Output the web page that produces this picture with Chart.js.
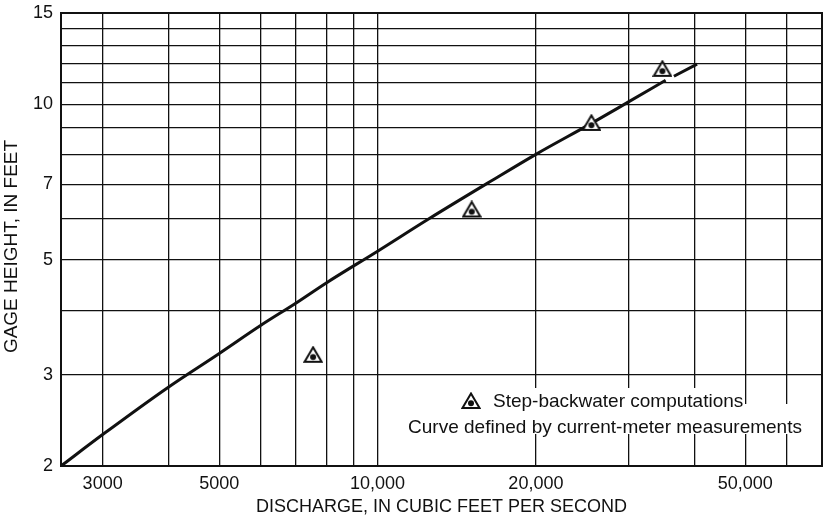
<!DOCTYPE html>
<html>
<head>
<meta charset="utf-8">
<script src="https://cdn.jsdelivr.net/npm/chart.js@4.4.1/dist/chart.umd.min.js"></script>
<style>
  html, body { margin: 0; padding: 0; background: #fff; overflow: hidden; }
  #wrap { width: 829px; height: 522px; }
  canvas { display: block; }
</style>
</head>
<body>
<div id="wrap"><canvas id="c" width="829" height="522"></canvas></div>
<script>
// Stage-discharge rating curve (log-log), discharge in cfs vs gage height in feet.
const curveDischarge = [2500, 3000, 4000, 5000, 6000, 7000, 8000, 10000, 12500, 16500, 20000, 25500, 30000, 35300, 36000, 36600, 40500];
const curveStage     = [2.0, 2.30, 2.84, 3.30, 3.74, 4.13, 4.52, 5.2, 6.0, 7.12, 8.0, 9.18, 10.1, 11.12, null, 11.32, 11.95];

// Step-backwater computed points
const stepDischarge = [7540, 15100, 25500, 34800];
const stepStage     = [3.28, 6.26, 9.2, 11.7];

// Axis grid values and labels
const xGridValues  = [3000, 4000, 5000, 6000, 7000, 8000, 9000, 10000, 20000, 30000, 40000, 50000, 60000];
const xLabelValues = [3000, 5000, 10000, 20000, 50000];
const xLabelText   = ['3000', '5000', '10,000', '20,000', '50,000'];
const yGridValues  = [2, 3, 4, 5, 6, 7, 8, 9, 10, 11, 12, 13, 14, 15];
const yLabelValues = [2, 3, 5, 7, 10, 15];
const yLabelText   = ['2', '3', '5', '7', '10', '15'];

const legendStep  = 'Step-backwater computations';
const legendCurve = 'Curve defined by current-meter measurements';
const xTitle = 'DISCHARGE, IN CUBIC FEET PER SECOND';
const yTitle = 'GAGE HEIGHT, IN FEET';

const INK = '#111';
const FONT = "'Liberation Sans', Arial, Helvetica, sans-serif";

function makeTriangleMarker() {
  const c = document.createElement('canvas');
  c.width = 20; c.height = 18;
  const g = c.getContext('2d');
  g.beginPath();
  g.moveTo(10, 1.5); g.lineTo(18.5, 16); g.lineTo(1.5, 16); g.closePath();
  g.fillStyle = '#fff'; g.fill();
  g.lineWidth = 2; g.strokeStyle = INK; g.lineJoin = 'miter'; g.stroke();
  g.beginPath(); g.arc(10, 11.2, 3, 0, Math.PI * 2);
  g.fillStyle = INK; g.fill();
  return c;
}
const triMarker = makeTriangleMarker();

const curvePoints = curveDischarge.map((x, i) => ({ x: x, y: curveStage[i] }));
const stepPoints = stepDischarge.map((x, i) => ({ x: x, y: stepStage[i] }));

// Plot frame drawn under the datasets
const framePlugin = {
  id: 'frame',
  beforeDatasetsDraw(chart) {
    const a = chart.chartArea, ctx = chart.ctx;
    ctx.save();
    ctx.strokeStyle = INK;
    ctx.lineWidth = 2;
    ctx.strokeRect(a.left, a.top, a.right - a.left, a.bottom - a.top);
    ctx.restore();
  }
};

// Vertical axis title, centred a little below the middle of the plot
const yTitlePlugin = {
  id: 'yTitle',
  afterDraw(chart) {
    const a = chart.chartArea, ctx = chart.ctx;
    ctx.save();
    ctx.translate(12, (a.top + a.bottom) / 2 + 7);
    ctx.rotate(-Math.PI / 2);
    ctx.fillStyle = INK;
    ctx.font = '19px ' + FONT;
    ctx.textAlign = 'center';
    ctx.textBaseline = 'middle';
    ctx.fillText(yTitle, 0, 0);
    ctx.restore();
  }
};

// Key in the lower right of the plot, set on white panels
const keyPlugin = {
  id: 'key',
  afterDatasetsDraw(chart) {
    const a = chart.chartArea, ctx = chart.ctx;
    const r = a.right, b = a.bottom;
    ctx.save();
    ctx.fillStyle = '#fff';
    ctx.fillRect(r - 364, b - 78, 283, 17);
    ctx.fillRect(r - 417, b - 62, 405, 30);
    ctx.drawImage(triMarker, r - 351 - 10, b - 65 - 9);
    ctx.fillStyle = INK;
    ctx.font = '19px ' + FONT;
    ctx.textBaseline = 'middle';
    ctx.textAlign = 'left';
    ctx.fillText(legendStep, r - 329, b - 64);
    ctx.textAlign = 'center';
    ctx.fillText(legendCurve, r - 217, b - 38);
    ctx.restore();
  }
};

new Chart(document.getElementById('c'), {
  type: 'scatter',
  data: {
    datasets: [
      {
        label: legendStep,
        data: stepPoints,
        pointStyle: triMarker,
        pointRadius: 9,
        showLine: false
      },
      {
        label: legendCurve,
        data: curvePoints,
        showLine: true,
        spanGaps: false,
        borderColor: INK,
        borderWidth: 3,
        pointRadius: 0,
        cubicInterpolationMode: 'monotone',
        fill: false
      }
    ]
  },
  options: {
    responsive: false,
    animation: false,
    devicePixelRatio: 1,
    layout: { autoPadding: false, padding: { top: 13, right: 7, left: 0, bottom: 0 } },
    plugins: {
      legend: { display: false },
      tooltip: { enabled: false }
    },
    scales: {
      x: {
        type: 'logarithmic',
        min: 2500,
        max: 70000,
        afterBuildTicks(scale) { scale.ticks = xGridValues.map(v => ({ value: v })); },
        afterFit(scale) {
          scale.height = 56;
          scale.paddingLeft = 0;
          scale.paddingRight = 0;
        },
        ticks: {
          autoSkip: false,
          maxRotation: 0,
          padding: 0,
          color: INK,
          font: { family: FONT, size: 18 },
          callback(v) {
            const k = xLabelValues.indexOf(v);
            return k >= 0 ? xLabelText[k] : '';
          }
        },
        grid: { color: INK, lineWidth: 1.3, drawTicks: true, tickLength: 7, tickColor: 'rgba(0,0,0,0)' },
        border: { display: true, color: INK, width: 2 },
        title: {
          display: true,
          text: xTitle,
          color: INK,
          font: { family: FONT, size: 18 },
          padding: { top: 0, bottom: 4 }
        }
      },
      y: {
        type: 'logarithmic',
        min: 2,
        max: 15,
        afterBuildTicks(scale) { scale.ticks = yGridValues.map(v => ({ value: v })); },
        afterFit(scale) {
          scale.width = 61;
          scale.paddingTop = 0;
          scale.paddingBottom = 0;
        },
        ticks: {
          autoSkip: false,
          padding: 0,
          color: INK,
          font: { family: FONT, size: 18 },
          callback(v) {
            const k = yLabelValues.indexOf(v);
            return k >= 0 ? yLabelText[k] : '';
          }
        },
        grid: { color: INK, lineWidth: 1.3, drawTicks: true, tickLength: 8, tickColor: 'rgba(0,0,0,0)' },
        border: { display: true, color: INK, width: 2 },
        title: { display: false }
      }
    }
  },
  plugins: [framePlugin, keyPlugin, yTitlePlugin]
});
</script>
</body>
</html>
